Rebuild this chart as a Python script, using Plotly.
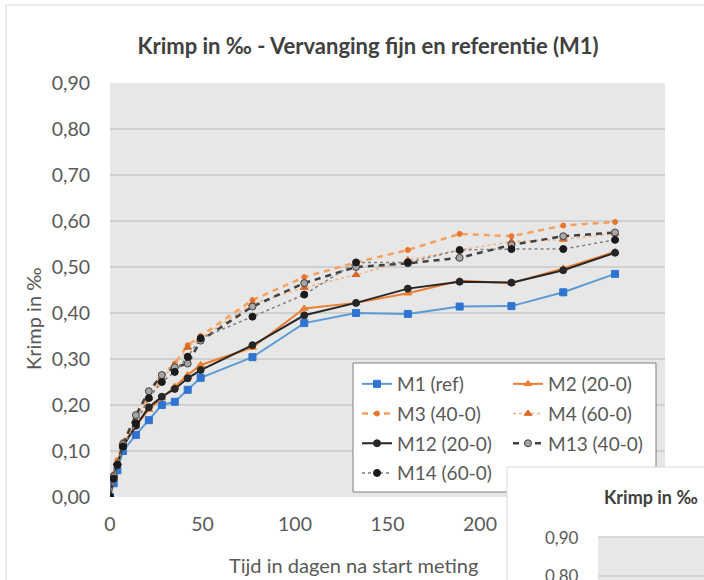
import plotly.graph_objects as go

days = [0, 2, 4, 7, 14, 21, 28, 35, 42, 49, 77, 105, 133, 161, 189, 217, 245, 273]

m1 = [0, 0.03, 0.058, 0.100, 0.135, 0.167, 0.200, 0.207, 0.233, 0.259, 0.304, 0.378, 0.400, 0.398, 0.414, 0.415, 0.445, 0.485]
m2 = [0, 0.040, 0.075, 0.115, 0.155, 0.190, 0.215, 0.240, 0.265, 0.287, 0.325, 0.410, 0.422, 0.443, 0.470, 0.465, 0.497, 0.533]
m3 = [0, 0.050, 0.080, 0.120, 0.175, 0.215, 0.265, 0.290, 0.330, 0.350, 0.428, 0.478, 0.510, 0.537, 0.572, 0.567, 0.590, 0.598]
m4 = [0, 0.045, 0.075, 0.115, 0.165, 0.215, 0.260, 0.285, 0.325, 0.345, 0.420, 0.455, 0.483, 0.515, 0.537, 0.555, 0.560, 0.573]
m12 = [0, 0.045, 0.070, 0.110, 0.155, 0.195, 0.218, 0.235, 0.258, 0.276, 0.330, 0.395, 0.422, 0.453, 0.468, 0.466, 0.493, 0.531]
m13 = [0, 0.045, 0.070, 0.115, 0.178, 0.230, 0.265, 0.282, 0.290, 0.340, 0.414, 0.465, 0.500, 0.508, 0.520, 0.548, 0.567, 0.575]
m14 = [0, 0.040, 0.070, 0.110, 0.160, 0.215, 0.250, 0.272, 0.305, 0.345, 0.392, 0.440, 0.510, 0.510, 0.537, 0.539, 0.539, 0.559]

x_ticks = [0, 50, 100, 150, 200]
y_ticks = [0, 0.1, 0.2, 0.3, 0.4, 0.5, 0.6, 0.7, 0.8, 0.9]

FONT = "Lato"
TXT = "#595959"

fig = go.Figure()

def add(name, y, lcolor, lwidth, dash, msym, msize, mcolor, mline=None, legend="legend"):
    fig.add_trace(go.Scatter(
        x=days, y=y, name=name, mode="lines+markers",
        line=dict(color=lcolor, width=lwidth, dash=dash),
        marker=dict(symbol=msym, size=msize, color=mcolor,
                    line=dict(color=mline or mcolor, width=1)),
        legend=legend, legendgroup=name,
    ))

add("M1 (ref)", m1, "#5B9BD5", 2, "solid", "square", 7, "#2F74D0")
add("M2 (20-0)", m2, "#ED7D31", 2, "solid", "triangle-up", 7, "#ED7D31", legend="legend2")
add("M3 (40-0)", m3, "#F4A15D", 2.5, "6px,5px", "circle", 5, "#E8772E")
add("M4 (60-0)", m4, "#F4B183", 1.5, "dot", "triangle-up", 7, "#D8692A", legend="legend2")
add("M12 (20-0)", m12, "#262626", 2, "solid", "circle", 7, "#262626")
add("M13 (40-0)", m13, "#404040", 2.5, "6px,5px", "circle", 7, "#A6A6A6", "#404040", legend="legend2")
add("M14 (60-0)", m14, "#808080", 1.5, "dot", "circle", 7, "#1A1A1A")

L, T, W, H = 110, 83, 555, 414

def px(x):
    return (x - L) / W

def py(y):
    return (T + H - y) / H

legend_common = dict(
    bgcolor="rgba(0,0,0,0)", borderwidth=0,
    font=dict(family=FONT, size=19, color=TXT),
    orientation="v", traceorder="grouped", tracegroupgap=2,
    xanchor="left", yanchor="top",
)

shapes = [
    # legend box
    dict(type="rect", xref="paper", yref="paper", x0=px(353), x1=px(656), y0=py(492), y1=py(363),
         fillcolor="white", line=dict(color="#7F7F7F", width=1), layer="above"),
    # outer chart frame
    dict(type="line", xref="paper", yref="paper", x0=px(6), x1=px(6), y0=py(5), y1=py(600),
         line=dict(color="#D9D9D9", width=1), layer="above"),
    dict(type="line", xref="paper", yref="paper", x0=px(6), x1=px(720), y0=py(5), y1=py(5),
         line=dict(color="#D9D9D9", width=1), layer="above"),
    # overlapping second chart (cropped)
    dict(type="rect", xref="paper", yref="paper", x0=px(507), x1=px(720), y0=py(600), y1=py(467),
         fillcolor="white", line=dict(color="#D9D9D9", width=1), layer="above"),
    dict(type="rect", xref="paper", yref="paper", x0=px(598), x1=px(720), y0=py(600), y1=py(537),
         fillcolor="#E7E7E7", line=dict(width=0), layer="above"),
    dict(type="line", xref="paper", yref="paper", x0=px(598), x1=px(720), y0=py(537), y1=py(537),
         line=dict(color="#CFCFCF", width=1.5), layer="above"),
    dict(type="line", xref="paper", yref="paper", x0=px(598), x1=px(720), y0=py(576), y1=py(576),
         line=dict(color="#CFCFCF", width=1.5), layer="above"),
]

annotations = [
    dict(text="Tijd in dagen na start meting", xref="paper", yref="paper", x=px(353), y=py(565),
         showarrow=False, font=dict(family=FONT, size=20, color=TXT), xanchor="center", yanchor="middle"),
    dict(text="Krimp in ‰", xref="paper", yref="paper", x=px(33), y=py(319), textangle=-90,
         showarrow=False, font=dict(family=FONT, size=20, color=TXT), xanchor="center", yanchor="middle"),
    dict(text="<b>Krimp in ‰</b>", xref="paper", yref="paper", x=px(651), y=py(497),
         showarrow=False, font=dict(family=FONT, size=18, color="#404040"), xanchor="center", yanchor="middle"),
    dict(text="0,90", xref="paper", yref="paper", x=px(581), y=py(537),
         showarrow=False, font=dict(family=FONT, size=17, color=TXT), xanchor="right", yanchor="middle"),
    dict(text="0,80", xref="paper", yref="paper", x=px(581), y=py(575),
         showarrow=False, font=dict(family=FONT, size=17, color=TXT), xanchor="right", yanchor="middle"),
]

fig.update_layout(
    width=704, height=580,
    margin=dict(l=L, r=704 - L - W, t=T, b=580 - T - H, autoexpand=False),
    paper_bgcolor="white", plot_bgcolor="#E7E7E7",
    separators=",.",
    font=dict(family=FONT, color=TXT),
    title=dict(text="<b>Krimp in ‰ - Vervanging fijn en referentie (M1)</b>",
               x=368 / 704, xanchor="center", y=1 - 46 / 580, yanchor="middle",
               font=dict(family=FONT, size=22, color="#404040")),
    xaxis=dict(range=[0, 300], tickvals=x_ticks, showgrid=False, zeroline=False, showline=False,
               ticks="", tickfont=dict(family=FONT, size=19.5, color=TXT), ticklabelstandoff=13),
    yaxis=dict(range=[0, 0.9], tickvals=y_ticks, tickformat=".2f", showgrid=True,
               gridcolor="#CFCFCF", gridwidth=1.5, zeroline=False, showline=False, ticks="",
               tickfont=dict(family=FONT, size=19.5, color=TXT), ticklabelstandoff=19),
    legend=dict(x=px(357), y=py(365), **legend_common),
    legend2=dict(x=px(508), y=py(365), **legend_common),
    shapes=shapes,
    annotations=annotations,
    showlegend=True,
)

fig.write_html("out.html", config={"displayModeBar": False},
               post_script="document.body.style.margin='0px';")
